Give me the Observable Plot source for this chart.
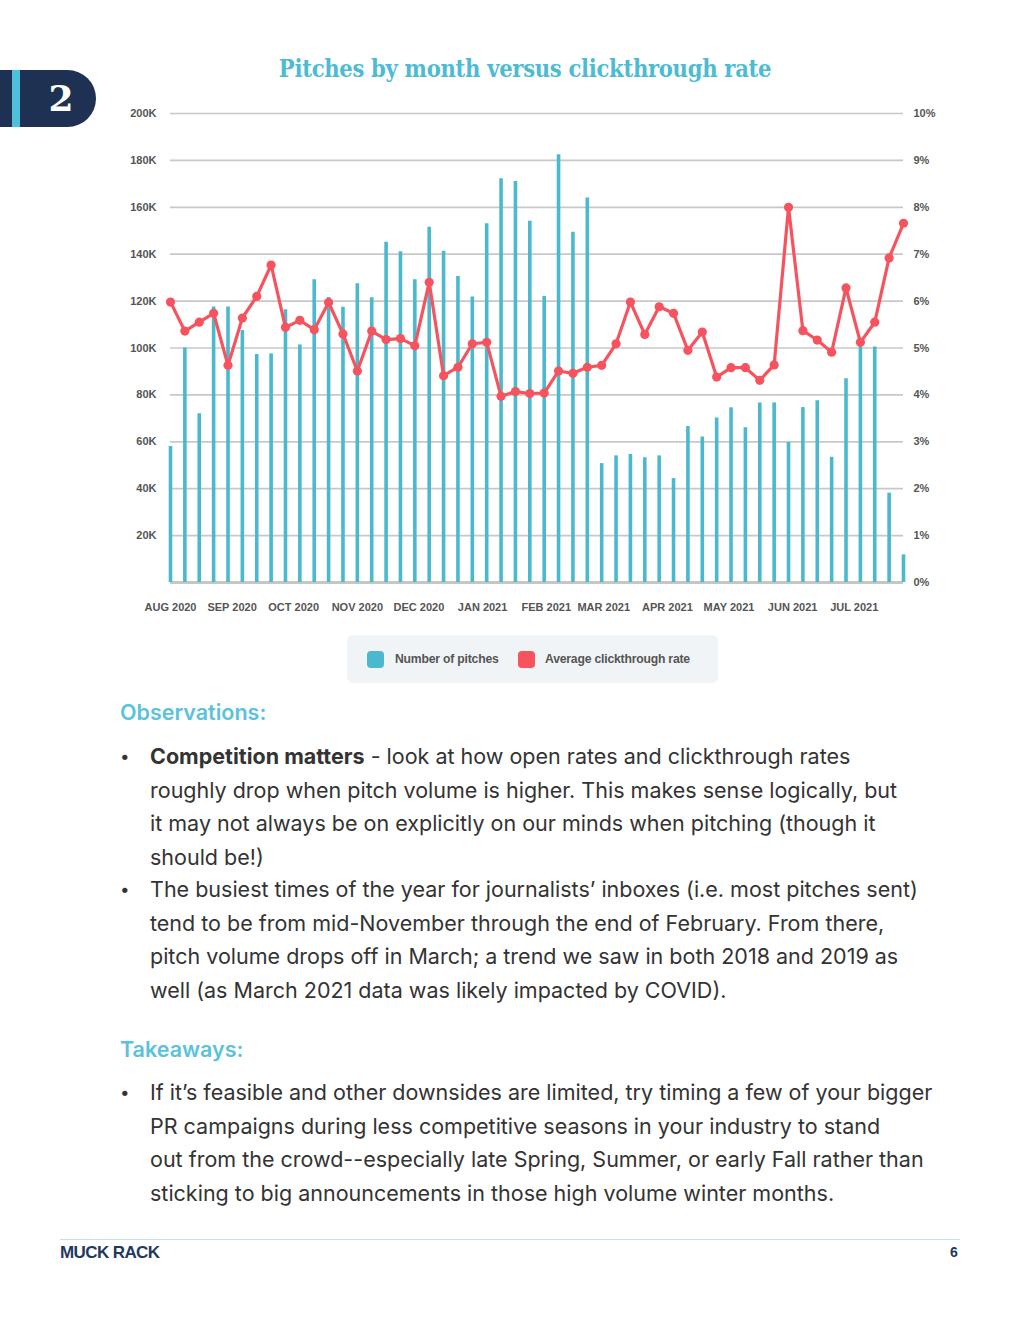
<!DOCTYPE html>
<html>
<head>
<meta charset="utf-8">
<script src="https://cdn.jsdelivr.net/npm/d3@7"></script>
<script src="https://cdn.jsdelivr.net/npm/@observablehq/plot@0.6"></script>
<style>
  html, body { margin:0; padding:0; background:#fff; }
  #page { position:relative; width:1020px; height:1320px; overflow:hidden; font-family:Inter, "Open Sans", sans-serif; }
  .abs { position:absolute; }
  #badge { left:0; top:70px; width:96px; height:57px; background:#1f3152; border-radius:0 29px 29px 0; }
  #stripe { left:12px; top:70px; width:8px; height:57px; background:#4fc0dc; }
  #badgeNum { left:40px; top:70px; width:42px; height:57px; line-height:57px; text-align:center; color:#fff; font-family:"DejaVu Serif", serif; font-weight:bold; font-size:36px; }
  #title { left:175px; width:700px; top:55px; text-align:center; color:#4dbbd3; font-family:"DejaVu Serif Condensed","DejaVu Serif",serif; font-stretch:condensed; font-weight:bold; font-size:23.5px; letter-spacing:-0.3px; }
  #chart { left:0; top:100px; }
  #legend { left:347px; top:635px; width:371px; height:48px; background:#f0f4f6; border-radius:6px; }
  .sw { position:absolute; width:17px; height:17px; border-radius:4px; top:16px; }
  .lt { position:absolute; top:14px; font-family:"Liberation Sans", Arial, sans-serif; font-weight:bold; font-size:12.2px; color:#555; letter-spacing:-0.2px; line-height:20px; white-space:nowrap; }
  .h { color:#5bc2dc; font-weight:600; font-size:21.5px; left:120px; }
  .b { left:120px; color:#333; font-size:21.5px; line-height:33.5px; white-space:nowrap; }
  .b .dot { position:absolute; left:0; top:0; font-size:17px; }
  .b .tx { position:absolute; left:30px; top:0; }
  #rule { left:60px; top:1239px; width:900px; height:1px; background:#bfe3ea; }
  #logo { left:60px; top:1243px; font-family:"Liberation Sans", Arial, sans-serif; font-weight:bold; font-size:17px; color:#1f3a60; letter-spacing:-0.6px; }
  #pnum { left:950px; top:1244px; font-family:"Liberation Sans", Arial, sans-serif; font-weight:bold; font-size:14px; color:#1f3a60; }
</style>
</head>
<body>
<div id="page">
  <div id="badge" class="abs"></div>
  <div id="stripe" class="abs"></div>
  <div id="badgeNum" class="abs">2</div>
  <div id="title" class="abs">Pitches by month versus clickthrough rate</div>
  <div id="chart" class="abs"></div>
  <div id="legend" class="abs">
    <div class="sw" style="left:20px;background:#4ab9ce"></div>
    <div class="lt" style="left:48px">Number of pitches</div>
    <div class="sw" style="left:171px;background:#f6535f"></div>
    <div class="lt" style="left:198px">Average clickthrough rate</div>
  </div>

  <div class="abs h" style="top:699px">Observations:</div>
  <div class="abs b" style="top:740px">
    <span class="dot">•</span>
    <span class="tx"><b>Competition matters</b> - look at how open rates and clickthrough rates<br>roughly drop when pitch volume is higher. This makes sense logically, but<br>it may not always be on explicitly on our minds when pitching (though it<br>should be!)</span>
  </div>
  <div class="abs b" style="top:873px">
    <span class="dot">•</span>
    <span class="tx">The busiest times of the year for journalists’ inboxes (i.e. most pitches sent)<br>tend to be from mid-November through the end of February. From there,<br>pitch volume drops off in March; a trend we saw in both 2018 and 2019 as<br>well (as March 2021 data was likely impacted by COVID).</span>
  </div>
  <div class="abs h" style="top:1036px">Takeaways:</div>
  <div class="abs b" style="top:1076px">
    <span class="dot">•</span>
    <span class="tx">If it’s feasible and other downsides are limited, try timing a few of your bigger<br>PR campaigns during less competitive seasons in your industry to stand<br>out from the crowd--especially late Spring, Summer, or early Fall rather than<br>sticking to big announcements in those high volume winter months.</span>
  </div>

  <div id="rule" class="abs"></div>
  <div id="logo" class="abs">MUCK RACK</div>
  <div id="pnum" class="abs">6</div>
</div>
<script>
// Weekly number of pitches (52 weeks, Aug 2020 – Jul 2021)
const pitches = [58000, 100000, 72000, 117500, 117500, 107500, 97200, 97500, 116300, 101300,
  129100, 121500, 117400, 127400, 121400, 145100, 141000, 129100, 151500, 141300,
  130500, 121700, 153000, 172200, 171000, 154100, 122000, 182400, 149400, 164000,
  50700, 54000, 54600, 53200, 54000, 44300, 66500, 62000, 70200, 74500,
  66000, 76500, 76600, 59700, 74600, 77500, 53400, 86900, 101500, 100400,
  38100, 11800];
// Weekly average clickthrough rate (%)
const ctr = [5.98, 5.36, 5.55, 5.74, 4.63, 5.64, 6.10, 6.77, 5.44, 5.59,
  5.39, 5.97, 5.30, 4.51, 5.36, 5.18, 5.20, 5.05, 6.40, 4.41,
  4.59, 5.09, 5.12, 3.97, 4.07, 4.03, 4.04, 4.51, 4.46, 4.59,
  4.63, 5.09, 5.98, 5.29, 5.88, 5.74, 4.95, 5.34, 4.38, 4.58,
  4.58, 4.31, 4.64, 8.00, 5.37, 5.17, 4.91, 6.28, 5.12, 5.55,
  6.92, 7.66];
const monthLabels = ["AUG 2020","SEP 2020","OCT 2020","NOV 2020","DEC 2020","JAN 2021",
  "FEB 2021","MAR 2021","APR 2021","MAY 2021","JUN 2021","JUL 2021"];
const monthDates = ["2020-08-02","2020-09-01","2020-10-01","2020-11-01","2020-12-01","2021-01-01",
  "2021-02-01","2021-03-01","2021-04-01","2021-05-01","2021-06-01","2021-07-01"];
const pitchTicks = [0, 20000, 40000, 60000, 80000, 100000, 120000, 140000, 160000, 180000, 200000];
const firstWeek = new Date("2020-08-02");

const weeks = d3.utcWeek.range(firstWeek, new Date("2021-07-26"));
const rows = pitches.map((p, i) => ({date: weeks[i], pitches: p, ctr: ctr[i]}));
const months = monthLabels.map((l, i) => ({label: l, date: new Date(monthDates[i])}));
const pctToY = 200000 / 10;

const chart = Plot.plot({
  width: 1020,
  height: 530,
  marginLeft: 170,
  marginRight: 117,
  marginTop: 13,
  marginBottom: 48,
  x: {type: "utc", domain: [weeks[0], weeks[weeks.length - 1]], axis: null},
  y: {domain: [0, 200000], axis: null},
  style: {fontFamily: "'Liberation Sans', Arial, sans-serif", fontSize: "11px", fontWeight: "bold", color: "#555", background: "transparent", overflow: "visible"},
  marks: [
    Plot.ruleY(pitchTicks.slice(1), {stroke: "#c8c8c8", strokeWidth: 1.7}),
    Plot.ruleY([0], {stroke: "#c6c6c6", strokeWidth: 3}),
    Plot.ruleX(rows, {x: "date", y1: 0, y2: "pitches", stroke: "#4ab9ce", strokeWidth: 3.6}),
    Plot.line(rows, {x: "date", y: d => d.ctr * pctToY, stroke: "#f6535f", strokeWidth: 3.2, strokeLinejoin: "round"}),
    Plot.dot(rows, {x: "date", y: d => d.ctr * pctToY, r: 4.6, fill: "#f6535f"}),
    Plot.axisY(pitchTicks, {anchor: "left", label: null, tickSize: 0, tickPadding: 14, tickFormat: d => d === 0 ? "" : (d / 1000) + "K", fill: "#555"}),
    Plot.axisY(pitchTicks, {anchor: "right", label: null, tickSize: 0, tickPadding: 10, tickFormat: d => (d / pctToY) + "%", fill: "#555", textAnchor: "start"}),
    Plot.text(months, {x: "date", y: 0, text: "label", dy: 25, fill: "#555", fontWeight: "bold"})
  ]
});
document.getElementById("chart").appendChild(chart);
</script>
</body>
</html>
